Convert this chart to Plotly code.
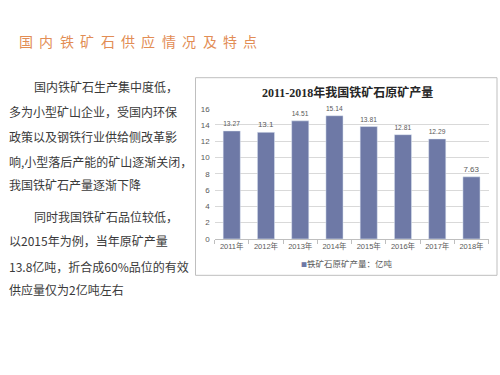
import plotly.graph_objects as go

W, H = 500, 375

years = ["2011年", "2012年", "2013年", "2014年", "2015年", "2016年", "2017年", "2018年"]
output = [13.27, 13.1, 14.51, 15.14, 13.81, 12.81, 12.29, 7.63]
value_labels = ["13.27", "13.1", "14.51", "15.14", "13.81", "12.81", "12.29", "7.63"]
y_ticks = [0, 2, 4, 6, 8, 10, 12, 14, 16]

slide_title = "国内铁矿石供应情况及特点"
chart_title = "2011-2018年我国铁矿石原矿产量"
legend_text = "铁矿石原矿产量：亿吨"
para1 = ["国内铁矿石生产集中度低，", "多为小型矿山企业，受国内环保", "政策以及钢铁行业供给侧改革影",
         "响,小型落后产能的矿山逐渐关闭，", "我国铁矿石产量逐渐下降"]
para2 = ["同时我国铁矿石品位较低，", "以2015年为例，当年原矿产量", "13.8亿吨，折合成60%品位的有效",
         "供应量仅为2亿吨左右"]

BAR = "#6E79A6"
TXT = "#3a3a3a"
AX = "#595959"
CJK = "Liberation Sans, Noto Sans CJK SC, sans-serif"

def px(x):
    return x / W

def py(y):
    return 1 - y / H

# plot area in pixels
PL, PR, PT, PB = 214.6, 488.6, 107.3, 240.7

fig = go.Figure()
fig.add_trace(go.Bar(
    x=years, y=output, marker_color=BAR, width=0.5,
    text=value_labels, textposition="outside", cliponaxis=False,
    textfont=dict(size=8, color=AX, family=CJK),
    showlegend=False, hoverinfo="x+y",
))

fig.update_layout(
    width=W, height=H,
    margin=dict(l=0, r=0, t=0, b=0),
    paper_bgcolor="white", plot_bgcolor="white",
    font=dict(family=CJK, color=TXT),
    xaxis=dict(domain=[px(PL), px(PR)], showgrid=False, showline=True, linecolor="#bfbfbf",
               linewidth=1, ticks="outside", tickson="boundaries", ticklen=4, tickcolor="#bfbfbf",
               tickfont=dict(size=7.5, color=AX, family=CJK), fixedrange=True),
    yaxis=dict(domain=[py(PB), py(PT)], range=[0, 16], tickvals=y_ticks, showgrid=True,
               gridcolor="#d9d9d9", gridwidth=1, zeroline=False, showline=False,
               tickfont=dict(size=8, color=AX, family=CJK), ticklabelstandoff=4, fixedrange=True),
    bargap=0.5,
)

shapes = [dict(type="rect", xref="paper", yref="paper", x0=px(195.5), x1=px(497), y0=py(75.5), y1=py(278),
               line=dict(color="#bfbfbf", width=1), fillcolor="rgba(0,0,0,0)", layer="below")]
fig.update_layout(shapes=shapes)

ann = []
# slide title, letter-spaced
for i, ch in enumerate(slide_title):
    ann.append(dict(x=px(17 + i * 20.4), y=py(38.3), xref="paper", yref="paper", text=ch,
                    showarrow=False, xanchor="left", yanchor="middle",
                    font=dict(size=14, color="#E28D55", family="Noto Sans CJK SC")))
# body text
p1_y = [85, 109.8, 135.5, 161.5, 184.5]
p2_y = [217.5, 242.5, 268.5, 293]
for i, (line, yy) in enumerate(zip(para1, p1_y)):
    ann.append(dict(x=px(31.5 if i == 0 else 6.5), y=py(yy), xref="paper", yref="paper", text=line,
                    showarrow=False, xanchor="left", yanchor="middle",
                    font=dict(size=12, color=TXT, family="Noto Sans CJK SC")))
for i, (line, yy) in enumerate(zip(para2, p2_y)):
    ann.append(dict(x=px(31.5 if i == 0 else 6.5), y=py(yy), xref="paper", yref="paper", text=line,
                    showarrow=False, xanchor="left", yanchor="middle",
                    font=dict(size=12, color=TXT, family="Noto Sans CJK SC")))
# chart title
ann.append(dict(x=px(347), y=py(90.5), xref="paper", yref="paper", text="<b>" + chart_title + "</b>",
                showarrow=False, xanchor="center", yanchor="middle",
                font=dict(size=12, color="#262626", family="Liberation Serif, Noto Sans CJK SC, serif")))
# legend
ann.append(dict(x=px(347), y=py(265.5), xref="paper", yref="paper",
                text="<span style='color:" + BAR + ";font-size:6px'>■</span>" + legend_text,
                showarrow=False, xanchor="center", yanchor="middle",
                font=dict(size=8.5, color=AX, family="Noto Sans CJK SC")))
fig.update_layout(annotations=ann)

fig.write_html("out.html", config=dict(displayModeBar=False),
               post_script="document.body.style.margin='0';document.body.style.overflow='hidden';")
